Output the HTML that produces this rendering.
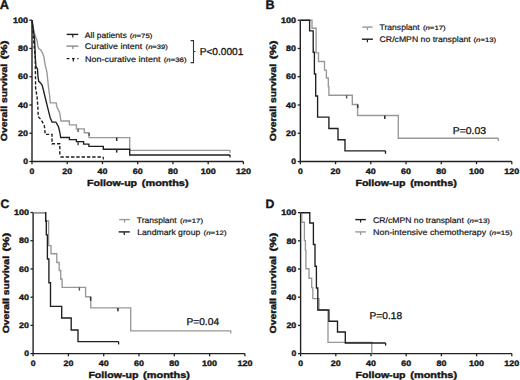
<!DOCTYPE html>
<html><head><meta charset="utf-8"><style>html,body{margin:0;padding:0;background:#fff;}svg{display:block;font-family:"Liberation Sans",sans-serif;text-rendering:geometricPrecision;}</style></head><body>
<svg width="520" height="380" viewBox="0 0 520 380">
<rect width="520" height="380" fill="#fff"/>
<text x="-0.2" y="8.9" font-size="12.8" font-weight="bold" text-anchor="start" fill="#161616" stroke="#161616" stroke-width="0.38">A</text>
<text x="265.6" y="8.9" font-size="12.6" font-weight="bold" text-anchor="start" fill="#161616" stroke="#161616" stroke-width="0.38">B</text>
<text x="0.4" y="207.6" font-size="12.2" font-weight="bold" text-anchor="start" fill="#161616" stroke="#161616" stroke-width="0.38">C</text>
<text x="265.4" y="207.6" font-size="12.2" font-weight="bold" text-anchor="start" fill="#161616" stroke="#161616" stroke-width="0.38">D</text>
<path d="M32 20.2V161.5H243.4" fill="none" stroke="#222" stroke-width="1.4"/>
<line x1="29.4" y1="161.5" x2="32" y2="161.5" stroke="#222" stroke-width="1.3"/>
<text x="28" y="164.25" font-size="7.9" font-weight="bold" text-anchor="end" fill="#161616" stroke="#161616" stroke-width="0.38" textLength="4.8" lengthAdjust="spacingAndGlyphs">0</text>
<line x1="29.4" y1="133.24" x2="32" y2="133.24" stroke="#222" stroke-width="1.3"/>
<text x="28" y="135.99" font-size="7.9" font-weight="bold" text-anchor="end" fill="#161616" stroke="#161616" stroke-width="0.38" textLength="9.9" lengthAdjust="spacingAndGlyphs">20</text>
<line x1="29.4" y1="104.98" x2="32" y2="104.98" stroke="#222" stroke-width="1.3"/>
<text x="28" y="107.73" font-size="7.9" font-weight="bold" text-anchor="end" fill="#161616" stroke="#161616" stroke-width="0.38" textLength="9.9" lengthAdjust="spacingAndGlyphs">40</text>
<line x1="29.4" y1="76.72" x2="32" y2="76.72" stroke="#222" stroke-width="1.3"/>
<text x="28" y="79.47" font-size="7.9" font-weight="bold" text-anchor="end" fill="#161616" stroke="#161616" stroke-width="0.38" textLength="9.9" lengthAdjust="spacingAndGlyphs">60</text>
<line x1="29.4" y1="48.46" x2="32" y2="48.46" stroke="#222" stroke-width="1.3"/>
<text x="28" y="51.21" font-size="7.9" font-weight="bold" text-anchor="end" fill="#161616" stroke="#161616" stroke-width="0.38" textLength="9.9" lengthAdjust="spacingAndGlyphs">80</text>
<line x1="29.4" y1="20.2" x2="32" y2="20.2" stroke="#222" stroke-width="1.3"/>
<text x="28" y="22.95" font-size="7.9" font-weight="bold" text-anchor="end" fill="#161616" stroke="#161616" stroke-width="0.38" textLength="15" lengthAdjust="spacingAndGlyphs">100</text>
<line x1="32" y1="161.5" x2="32" y2="164.2" stroke="#222" stroke-width="1.3"/>
<text x="32" y="173.6" font-size="7.9" font-weight="bold" text-anchor="middle" fill="#161616" stroke="#161616" stroke-width="0.38" textLength="4.8" lengthAdjust="spacingAndGlyphs">0</text>
<line x1="67.23" y1="161.5" x2="67.23" y2="164.2" stroke="#222" stroke-width="1.3"/>
<text x="67.23" y="173.6" font-size="7.9" font-weight="bold" text-anchor="middle" fill="#161616" stroke="#161616" stroke-width="0.38" textLength="9.9" lengthAdjust="spacingAndGlyphs">20</text>
<line x1="102.47" y1="161.5" x2="102.47" y2="164.2" stroke="#222" stroke-width="1.3"/>
<text x="102.47" y="173.6" font-size="7.9" font-weight="bold" text-anchor="middle" fill="#161616" stroke="#161616" stroke-width="0.38" textLength="9.9" lengthAdjust="spacingAndGlyphs">40</text>
<line x1="137.7" y1="161.5" x2="137.7" y2="164.2" stroke="#222" stroke-width="1.3"/>
<text x="137.7" y="173.6" font-size="7.9" font-weight="bold" text-anchor="middle" fill="#161616" stroke="#161616" stroke-width="0.38" textLength="9.9" lengthAdjust="spacingAndGlyphs">60</text>
<line x1="172.93" y1="161.5" x2="172.93" y2="164.2" stroke="#222" stroke-width="1.3"/>
<text x="172.93" y="173.6" font-size="7.9" font-weight="bold" text-anchor="middle" fill="#161616" stroke="#161616" stroke-width="0.38" textLength="9.9" lengthAdjust="spacingAndGlyphs">80</text>
<line x1="208.17" y1="161.5" x2="208.17" y2="164.2" stroke="#222" stroke-width="1.3"/>
<text x="208.17" y="173.6" font-size="7.9" font-weight="bold" text-anchor="middle" fill="#161616" stroke="#161616" stroke-width="0.38" textLength="15" lengthAdjust="spacingAndGlyphs">100</text>
<line x1="243.4" y1="161.5" x2="243.4" y2="164.2" stroke="#222" stroke-width="1.3"/>
<text x="243.4" y="173.6" font-size="7.9" font-weight="bold" text-anchor="middle" fill="#161616" stroke="#161616" stroke-width="0.38" textLength="15" lengthAdjust="spacingAndGlyphs">120</text>
<text x="87.1" y="185.7" font-size="8.9" font-weight="bold" text-anchor="start" fill="#161616" stroke="#161616" stroke-width="0.38" textLength="50" lengthAdjust="spacingAndGlyphs">Follow-up</text>
<text x="188.6" y="185.7" font-size="8.9" font-weight="bold" text-anchor="end" fill="#161616" stroke="#161616" stroke-width="0.38" textLength="46.8" lengthAdjust="spacingAndGlyphs">(months)</text>
<text x="0" y="0" font-size="8.9" font-weight="bold" text-anchor="start" fill="#161616" stroke="#161616" stroke-width="0.38" textLength="77.4" lengthAdjust="spacingAndGlyphs" transform="translate(7.4 141.15) rotate(-90)">Overall survival</text>
<text x="0" y="0" font-size="8.9" font-weight="bold" text-anchor="end" fill="#161616" stroke="#161616" stroke-width="0.38" textLength="18.8" lengthAdjust="spacingAndGlyphs" transform="translate(7.4 40.55) rotate(-90)">(%)</text>
<path d="M32 20.2L32.6 23L33.4 28L34.4 33L35.6 36.8L37.1 40.7L37.9 46.3L38.7 48.6L40.7 49.8L42.3 52.6L43.8 56.5L44.6 61.3L45.4 66.3L46.9 71.8L47.7 79.7L48.6 88L49.6 95.4L50.3 102.8H56.2L57.1 107.6L59.7 112.6L60.9 121H69.4V124.8H76.4V128.9H84.3V132.7H89V137.6H129.7V150.3H230.2" fill="none" stroke="#989898" stroke-width="1.35" stroke-linejoin="miter" stroke-linecap="butt"/>
<path d="M32 20.2L32.8 26L33.6 32L34.4 37L34.8 43.9L35.2 55.7L35.9 66.3L37.5 68.9L37.9 75.8L38.7 81.3L40.6 82.9L42.2 85.3L43.4 90L45.8 100L47.7 107.6L48.9 112.6L50.2 117.7L52.1 122.1H55.9L58.4 126.5L59.7 131.6L60.7 137.5H69.4V139.6H76.4V141.6H83.6V144.1H88.9V146.3H103.3V149.2H129.7V155H230.2" fill="none" stroke="#1e1e1e" stroke-width="1.35" stroke-linejoin="miter" stroke-linecap="butt"/>
<path d="M32 20.2L33.2 36L35.3 58L35.6 88L37.2 98L37.8 106.3L38.3 116.8L40.9 119.6L44.3 125.2L45.2 134.4H52V143.8H59.8V156" fill="none" stroke="#1e1e1e" stroke-width="1.4" stroke-linejoin="miter" stroke-linecap="butt" stroke-dasharray="3.2,1.9"/>
<path d="M60.4 157.1H103.3" fill="none" stroke="#1e1e1e" stroke-width="1.5" stroke-linejoin="miter" stroke-linecap="butt" stroke-dasharray="3.4,1.9"/>
<line x1="78.1" y1="128.8" x2="78.1" y2="132" stroke="#555" stroke-width="1.4"/>
<line x1="89.1" y1="133" x2="89.1" y2="136" stroke="#555" stroke-width="1.4"/>
<line x1="116.7" y1="137.6" x2="116.7" y2="141" stroke="#333" stroke-width="1.6"/>
<line x1="78.1" y1="141.6" x2="78.1" y2="145.2" stroke="#333" stroke-width="1.3"/>
<line x1="116.7" y1="149.2" x2="116.7" y2="152.6" stroke="#333" stroke-width="1.6"/>
<line x1="230" y1="150.3" x2="230" y2="152.8" stroke="#989898" stroke-width="1.3"/>
<line x1="230" y1="155" x2="230" y2="157.6" stroke="#1e1e1e" stroke-width="1.3"/>
<line x1="103.3" y1="157.1" x2="103.3" y2="159.6" stroke="#1e1e1e" stroke-width="1.2"/>
<line x1="66.7" y1="34.4" x2="78.2" y2="34.4" stroke="#1e1e1e" stroke-width="1.4"/>
<line x1="72.8" y1="34.4" x2="72.8" y2="37.4" stroke="#1e1e1e" stroke-width="1.2"/>
<text x="84.8" y="37.6" font-size="8.1" font-weight="normal" text-anchor="start" fill="#161616" stroke="#161616" stroke-width="0.2" textLength="42" lengthAdjust="spacingAndGlyphs">All patients</text>
<text x="129.7" y="37.6" font-size="6.3" fill="#161616" stroke="#161616" stroke-width="0.2" textLength="22.6" lengthAdjust="spacingAndGlyphs">(<tspan font-style="italic">n</tspan>=75)</text>
<line x1="66.4" y1="46.1" x2="78.3" y2="46.1" stroke="#8a8a8a" stroke-width="1.4"/>
<line x1="72.8" y1="46.1" x2="72.8" y2="49.1" stroke="#8a8a8a" stroke-width="1.2"/>
<text x="84.8" y="49.4" font-size="8.1" font-weight="normal" text-anchor="start" fill="#161616" stroke="#161616" stroke-width="0.2" textLength="57.4" lengthAdjust="spacingAndGlyphs">Curative intent</text>
<text x="145.6" y="49.4" font-size="6.3" fill="#161616" stroke="#161616" stroke-width="0.2" textLength="22.2" lengthAdjust="spacingAndGlyphs">(<tspan font-style="italic">n</tspan>=39)</text>
<line x1="66.7" y1="58.6" x2="78.6" y2="58.6" stroke="#1e1e1e" stroke-width="1.4" stroke-dasharray="2.7,2.6"/>
<line x1="73.3" y1="58.6" x2="73.3" y2="61.6" stroke="#1e1e1e" stroke-width="1.2"/>
<text x="85" y="61.6" font-size="8.1" font-weight="normal" text-anchor="start" fill="#161616" stroke="#161616" stroke-width="0.2" textLength="75.4" lengthAdjust="spacingAndGlyphs">Non-curative intent</text>
<text x="163.7" y="61.6" font-size="6.3" fill="#161616" stroke="#161616" stroke-width="0.2" textLength="22.9" lengthAdjust="spacingAndGlyphs">(<tspan font-style="italic">n</tspan>=36)</text>
<path d="M190.6 40.6H193.5V62.6H190.6M193.5 51.5H195.4" fill="none" stroke="#333" stroke-width="1.1"/>
<text x="199.7" y="54.9" font-size="10.0" font-weight="normal" text-anchor="start" fill="#161616" stroke="#161616" stroke-width="0.3" textLength="43.7" lengthAdjust="spacingAndGlyphs">P&lt;0.0001</text>
<path d="M300.3 20.2V161.5H511.8" fill="none" stroke="#222" stroke-width="1.4"/>
<line x1="297.7" y1="161.5" x2="300.3" y2="161.5" stroke="#222" stroke-width="1.3"/>
<text x="296" y="164.25" font-size="7.9" font-weight="bold" text-anchor="end" fill="#161616" stroke="#161616" stroke-width="0.38" textLength="4.8" lengthAdjust="spacingAndGlyphs">0</text>
<line x1="297.7" y1="133.24" x2="300.3" y2="133.24" stroke="#222" stroke-width="1.3"/>
<text x="296" y="135.99" font-size="7.9" font-weight="bold" text-anchor="end" fill="#161616" stroke="#161616" stroke-width="0.38" textLength="9.9" lengthAdjust="spacingAndGlyphs">20</text>
<line x1="297.7" y1="104.98" x2="300.3" y2="104.98" stroke="#222" stroke-width="1.3"/>
<text x="296" y="107.73" font-size="7.9" font-weight="bold" text-anchor="end" fill="#161616" stroke="#161616" stroke-width="0.38" textLength="9.9" lengthAdjust="spacingAndGlyphs">40</text>
<line x1="297.7" y1="76.72" x2="300.3" y2="76.72" stroke="#222" stroke-width="1.3"/>
<text x="296" y="79.47" font-size="7.9" font-weight="bold" text-anchor="end" fill="#161616" stroke="#161616" stroke-width="0.38" textLength="9.9" lengthAdjust="spacingAndGlyphs">60</text>
<line x1="297.7" y1="48.46" x2="300.3" y2="48.46" stroke="#222" stroke-width="1.3"/>
<text x="296" y="51.21" font-size="7.9" font-weight="bold" text-anchor="end" fill="#161616" stroke="#161616" stroke-width="0.38" textLength="9.9" lengthAdjust="spacingAndGlyphs">80</text>
<line x1="297.7" y1="20.2" x2="300.3" y2="20.2" stroke="#222" stroke-width="1.3"/>
<text x="296" y="22.95" font-size="7.9" font-weight="bold" text-anchor="end" fill="#161616" stroke="#161616" stroke-width="0.38" textLength="15" lengthAdjust="spacingAndGlyphs">100</text>
<line x1="300.3" y1="161.5" x2="300.3" y2="164.2" stroke="#222" stroke-width="1.3"/>
<text x="300.3" y="173.6" font-size="7.9" font-weight="bold" text-anchor="middle" fill="#161616" stroke="#161616" stroke-width="0.38" textLength="4.8" lengthAdjust="spacingAndGlyphs">0</text>
<line x1="335.55" y1="161.5" x2="335.55" y2="164.2" stroke="#222" stroke-width="1.3"/>
<text x="335.55" y="173.6" font-size="7.9" font-weight="bold" text-anchor="middle" fill="#161616" stroke="#161616" stroke-width="0.38" textLength="9.9" lengthAdjust="spacingAndGlyphs">20</text>
<line x1="370.8" y1="161.5" x2="370.8" y2="164.2" stroke="#222" stroke-width="1.3"/>
<text x="370.8" y="173.6" font-size="7.9" font-weight="bold" text-anchor="middle" fill="#161616" stroke="#161616" stroke-width="0.38" textLength="9.9" lengthAdjust="spacingAndGlyphs">40</text>
<line x1="406.05" y1="161.5" x2="406.05" y2="164.2" stroke="#222" stroke-width="1.3"/>
<text x="406.05" y="173.6" font-size="7.9" font-weight="bold" text-anchor="middle" fill="#161616" stroke="#161616" stroke-width="0.38" textLength="9.9" lengthAdjust="spacingAndGlyphs">60</text>
<line x1="441.3" y1="161.5" x2="441.3" y2="164.2" stroke="#222" stroke-width="1.3"/>
<text x="441.3" y="173.6" font-size="7.9" font-weight="bold" text-anchor="middle" fill="#161616" stroke="#161616" stroke-width="0.38" textLength="9.9" lengthAdjust="spacingAndGlyphs">80</text>
<line x1="476.55" y1="161.5" x2="476.55" y2="164.2" stroke="#222" stroke-width="1.3"/>
<text x="476.55" y="173.6" font-size="7.9" font-weight="bold" text-anchor="middle" fill="#161616" stroke="#161616" stroke-width="0.38" textLength="15" lengthAdjust="spacingAndGlyphs">100</text>
<line x1="511.8" y1="161.5" x2="511.8" y2="164.2" stroke="#222" stroke-width="1.3"/>
<text x="511.8" y="173.6" font-size="7.9" font-weight="bold" text-anchor="middle" fill="#161616" stroke="#161616" stroke-width="0.38" textLength="15" lengthAdjust="spacingAndGlyphs">120</text>
<text x="355.45" y="185.7" font-size="8.9" font-weight="bold" text-anchor="start" fill="#161616" stroke="#161616" stroke-width="0.38" textLength="50" lengthAdjust="spacingAndGlyphs">Follow-up</text>
<text x="456.95" y="185.7" font-size="8.9" font-weight="bold" text-anchor="end" fill="#161616" stroke="#161616" stroke-width="0.38" textLength="46.8" lengthAdjust="spacingAndGlyphs">(months)</text>
<text x="0" y="0" font-size="8.9" font-weight="bold" text-anchor="start" fill="#161616" stroke="#161616" stroke-width="0.38" textLength="77.4" lengthAdjust="spacingAndGlyphs" transform="translate(275.8 141.15) rotate(-90)">Overall survival</text>
<text x="0" y="0" font-size="8.9" font-weight="bold" text-anchor="end" fill="#161616" stroke="#161616" stroke-width="0.38" textLength="18.8" lengthAdjust="spacingAndGlyphs" transform="translate(275.8 40.55) rotate(-90)">(%)</text>
<path d="M300.3 20.2H312V28.2H316.1V52.9H318.5V61.5H324.5V70.1H326.4V78H328.3V86.6H328.9V95.2H352.3V104.5H357.6V115.5H398.3V138.2H498.4" fill="none" stroke="#989898" stroke-width="1.35" stroke-linejoin="miter" stroke-linecap="butt"/>
<path d="M300.3 20.2H309.6V30.8H313.2V52.2H314.4V74H315.7V96H317.6V117.1H328.9V128.5H338V139.7H345V150.8H385.6" fill="none" stroke="#1e1e1e" stroke-width="1.35" stroke-linejoin="miter" stroke-linecap="butt"/>
<line x1="346.6" y1="95.2" x2="346.6" y2="98.5" stroke="#555" stroke-width="1.4"/>
<line x1="357.7" y1="104.5" x2="357.7" y2="108" stroke="#333" stroke-width="1.5"/>
<line x1="384.8" y1="115.5" x2="384.8" y2="119" stroke="#333" stroke-width="1.6"/>
<line x1="498.3" y1="138.2" x2="498.3" y2="141.1" stroke="#989898" stroke-width="1.3"/>
<line x1="385.5" y1="150.8" x2="385.5" y2="153.8" stroke="#1e1e1e" stroke-width="1.3"/>
<line x1="362.3" y1="27.1" x2="372.6" y2="27.1" stroke="#989898" stroke-width="1.4"/>
<line x1="367.45" y1="27.1" x2="367.45" y2="30.1" stroke="#989898" stroke-width="1.2"/>
<text x="379.6" y="30.2" font-size="8.1" font-weight="normal" text-anchor="start" fill="#161616" stroke="#161616" stroke-width="0.2" textLength="40.1" lengthAdjust="spacingAndGlyphs">Transplant</text>
<text x="422.9" y="30.2" font-size="6.3" fill="#161616" stroke="#161616" stroke-width="0.2" textLength="22.8" lengthAdjust="spacingAndGlyphs">(<tspan font-style="italic">n</tspan>=17)</text>
<line x1="361.9" y1="39.2" x2="372.9" y2="39.2" stroke="#1e1e1e" stroke-width="1.4"/>
<line x1="367.4" y1="39.2" x2="367.4" y2="42.2" stroke="#1e1e1e" stroke-width="1.2"/>
<text x="379.6" y="42.4" font-size="8.1" font-weight="normal" text-anchor="start" fill="#161616" stroke="#161616" stroke-width="0.2" textLength="91.2" lengthAdjust="spacingAndGlyphs">CR/cMPN no transplant</text>
<text x="473.5" y="42.4" font-size="6.3" fill="#161616" stroke="#161616" stroke-width="0.2" textLength="22.7" lengthAdjust="spacingAndGlyphs">(<tspan font-style="italic">n</tspan>=13)</text>
<text x="452.7" y="133.6" font-size="9.9" font-weight="normal" text-anchor="start" fill="#161616" stroke="#161616" stroke-width="0.3" textLength="33.4" lengthAdjust="spacingAndGlyphs">P=0.03</text>
<path d="M33.1 212.5V353.6H244.9" fill="none" stroke="#222" stroke-width="1.4"/>
<line x1="30.5" y1="353.6" x2="33.1" y2="353.6" stroke="#222" stroke-width="1.3"/>
<text x="29" y="356.35" font-size="7.9" font-weight="bold" text-anchor="end" fill="#161616" stroke="#161616" stroke-width="0.38" textLength="4.8" lengthAdjust="spacingAndGlyphs">0</text>
<line x1="30.5" y1="325.38" x2="33.1" y2="325.38" stroke="#222" stroke-width="1.3"/>
<text x="29" y="328.13" font-size="7.9" font-weight="bold" text-anchor="end" fill="#161616" stroke="#161616" stroke-width="0.38" textLength="9.9" lengthAdjust="spacingAndGlyphs">20</text>
<line x1="30.5" y1="297.16" x2="33.1" y2="297.16" stroke="#222" stroke-width="1.3"/>
<text x="29" y="299.91" font-size="7.9" font-weight="bold" text-anchor="end" fill="#161616" stroke="#161616" stroke-width="0.38" textLength="9.9" lengthAdjust="spacingAndGlyphs">40</text>
<line x1="30.5" y1="268.94" x2="33.1" y2="268.94" stroke="#222" stroke-width="1.3"/>
<text x="29" y="271.69" font-size="7.9" font-weight="bold" text-anchor="end" fill="#161616" stroke="#161616" stroke-width="0.38" textLength="9.9" lengthAdjust="spacingAndGlyphs">60</text>
<line x1="30.5" y1="240.72" x2="33.1" y2="240.72" stroke="#222" stroke-width="1.3"/>
<text x="29" y="243.47" font-size="7.9" font-weight="bold" text-anchor="end" fill="#161616" stroke="#161616" stroke-width="0.38" textLength="9.9" lengthAdjust="spacingAndGlyphs">80</text>
<line x1="30.5" y1="212.5" x2="33.1" y2="212.5" stroke="#222" stroke-width="1.3"/>
<text x="29" y="215.25" font-size="7.9" font-weight="bold" text-anchor="end" fill="#161616" stroke="#161616" stroke-width="0.38" textLength="15" lengthAdjust="spacingAndGlyphs">100</text>
<line x1="33.1" y1="353.6" x2="33.1" y2="356.3" stroke="#222" stroke-width="1.3"/>
<text x="33.1" y="365.7" font-size="7.9" font-weight="bold" text-anchor="middle" fill="#161616" stroke="#161616" stroke-width="0.38" textLength="4.8" lengthAdjust="spacingAndGlyphs">0</text>
<line x1="68.4" y1="353.6" x2="68.4" y2="356.3" stroke="#222" stroke-width="1.3"/>
<text x="68.4" y="365.7" font-size="7.9" font-weight="bold" text-anchor="middle" fill="#161616" stroke="#161616" stroke-width="0.38" textLength="9.9" lengthAdjust="spacingAndGlyphs">20</text>
<line x1="103.7" y1="353.6" x2="103.7" y2="356.3" stroke="#222" stroke-width="1.3"/>
<text x="103.7" y="365.7" font-size="7.9" font-weight="bold" text-anchor="middle" fill="#161616" stroke="#161616" stroke-width="0.38" textLength="9.9" lengthAdjust="spacingAndGlyphs">40</text>
<line x1="139" y1="353.6" x2="139" y2="356.3" stroke="#222" stroke-width="1.3"/>
<text x="139" y="365.7" font-size="7.9" font-weight="bold" text-anchor="middle" fill="#161616" stroke="#161616" stroke-width="0.38" textLength="9.9" lengthAdjust="spacingAndGlyphs">60</text>
<line x1="174.3" y1="353.6" x2="174.3" y2="356.3" stroke="#222" stroke-width="1.3"/>
<text x="174.3" y="365.7" font-size="7.9" font-weight="bold" text-anchor="middle" fill="#161616" stroke="#161616" stroke-width="0.38" textLength="9.9" lengthAdjust="spacingAndGlyphs">80</text>
<line x1="209.6" y1="353.6" x2="209.6" y2="356.3" stroke="#222" stroke-width="1.3"/>
<text x="209.6" y="365.7" font-size="7.9" font-weight="bold" text-anchor="middle" fill="#161616" stroke="#161616" stroke-width="0.38" textLength="15" lengthAdjust="spacingAndGlyphs">100</text>
<line x1="244.9" y1="353.6" x2="244.9" y2="356.3" stroke="#222" stroke-width="1.3"/>
<text x="244.9" y="365.7" font-size="7.9" font-weight="bold" text-anchor="middle" fill="#161616" stroke="#161616" stroke-width="0.38" textLength="15" lengthAdjust="spacingAndGlyphs">120</text>
<text x="88.4" y="377.8" font-size="8.9" font-weight="bold" text-anchor="start" fill="#161616" stroke="#161616" stroke-width="0.38" textLength="50" lengthAdjust="spacingAndGlyphs">Follow-up</text>
<text x="189.9" y="377.8" font-size="8.9" font-weight="bold" text-anchor="end" fill="#161616" stroke="#161616" stroke-width="0.38" textLength="46.8" lengthAdjust="spacingAndGlyphs">(months)</text>
<text x="0" y="0" font-size="8.9" font-weight="bold" text-anchor="start" fill="#161616" stroke="#161616" stroke-width="0.38" textLength="77.4" lengthAdjust="spacingAndGlyphs" transform="translate(9 333.35) rotate(-90)">Overall survival</text>
<text x="0" y="0" font-size="8.9" font-weight="bold" text-anchor="end" fill="#161616" stroke="#161616" stroke-width="0.38" textLength="18.8" lengthAdjust="spacingAndGlyphs" transform="translate(9 232.75) rotate(-90)">(%)</text>
<path d="M33.1 212.6H45.6V221H48.6V245.6H51V253.7H56.8V262.5H59.2V270.5H60.7V279H62.1V287.3H85.6V296.7H90.8V307.9H130.7V330.8H230.9" fill="none" stroke="#989898" stroke-width="1.35" stroke-linejoin="miter" stroke-linecap="butt"/>
<path d="M33.1 212.6H45.7V221H46.3V234.8H47.4V259H48.9V282.7H50.5V306.4H61.7V318H71.2V330H78V341.6H118.7" fill="none" stroke="#1e1e1e" stroke-width="1.35" stroke-linejoin="miter" stroke-linecap="butt"/>
<path d="M33.1 212.6H45.1" fill="none" stroke="#989898" stroke-width="1.35" stroke-linejoin="miter" stroke-linecap="butt"/>
<line x1="79.4" y1="287.3" x2="79.4" y2="290.6" stroke="#555" stroke-width="1.4"/>
<line x1="90.6" y1="297" x2="90.6" y2="300.8" stroke="#333" stroke-width="1.5"/>
<line x1="117.9" y1="307.9" x2="117.9" y2="311.2" stroke="#333" stroke-width="1.6"/>
<line x1="230.8" y1="330.8" x2="230.8" y2="333.6" stroke="#989898" stroke-width="1.3"/>
<line x1="118.6" y1="341.6" x2="118.6" y2="344.4" stroke="#1e1e1e" stroke-width="1.3"/>
<line x1="119.2" y1="219.6" x2="129.8" y2="219.6" stroke="#989898" stroke-width="1.4"/>
<line x1="124.5" y1="219.6" x2="124.5" y2="222.6" stroke="#989898" stroke-width="1.2"/>
<text x="136.8" y="222.7" font-size="8.1" font-weight="normal" text-anchor="start" fill="#161616" stroke="#161616" stroke-width="0.2" textLength="39.9" lengthAdjust="spacingAndGlyphs">Transplant</text>
<text x="180.1" y="222.7" font-size="6.3" fill="#161616" stroke="#161616" stroke-width="0.2" textLength="22.9" lengthAdjust="spacingAndGlyphs">(<tspan font-style="italic">n</tspan>=17)</text>
<line x1="118.7" y1="231.9" x2="129.8" y2="231.9" stroke="#1e1e1e" stroke-width="1.4"/>
<line x1="124.25" y1="231.9" x2="124.25" y2="234.9" stroke="#1e1e1e" stroke-width="1.2"/>
<text x="137.2" y="234.8" font-size="8.1" font-weight="normal" text-anchor="start" fill="#161616" stroke="#161616" stroke-width="0.2" textLength="63.1" lengthAdjust="spacingAndGlyphs">Landmark group</text>
<text x="203.6" y="234.8" font-size="6.3" fill="#161616" stroke="#161616" stroke-width="0.2" textLength="22.9" lengthAdjust="spacingAndGlyphs">(<tspan font-style="italic">n</tspan>=12)</text>
<text x="186.4" y="324.5" font-size="9.9" font-weight="normal" text-anchor="start" fill="#161616" stroke="#161616" stroke-width="0.3" textLength="32.7" lengthAdjust="spacingAndGlyphs">P=0.04</text>
<path d="M300.6 212.6V353.6H511.8" fill="none" stroke="#222" stroke-width="1.4"/>
<line x1="298" y1="353.6" x2="300.6" y2="353.6" stroke="#222" stroke-width="1.3"/>
<text x="296.3" y="356.35" font-size="7.9" font-weight="bold" text-anchor="end" fill="#161616" stroke="#161616" stroke-width="0.38" textLength="4.8" lengthAdjust="spacingAndGlyphs">0</text>
<line x1="298" y1="325.4" x2="300.6" y2="325.4" stroke="#222" stroke-width="1.3"/>
<text x="296.3" y="328.15" font-size="7.9" font-weight="bold" text-anchor="end" fill="#161616" stroke="#161616" stroke-width="0.38" textLength="9.9" lengthAdjust="spacingAndGlyphs">20</text>
<line x1="298" y1="297.2" x2="300.6" y2="297.2" stroke="#222" stroke-width="1.3"/>
<text x="296.3" y="299.95" font-size="7.9" font-weight="bold" text-anchor="end" fill="#161616" stroke="#161616" stroke-width="0.38" textLength="9.9" lengthAdjust="spacingAndGlyphs">40</text>
<line x1="298" y1="269" x2="300.6" y2="269" stroke="#222" stroke-width="1.3"/>
<text x="296.3" y="271.75" font-size="7.9" font-weight="bold" text-anchor="end" fill="#161616" stroke="#161616" stroke-width="0.38" textLength="9.9" lengthAdjust="spacingAndGlyphs">60</text>
<line x1="298" y1="240.8" x2="300.6" y2="240.8" stroke="#222" stroke-width="1.3"/>
<text x="296.3" y="243.55" font-size="7.9" font-weight="bold" text-anchor="end" fill="#161616" stroke="#161616" stroke-width="0.38" textLength="9.9" lengthAdjust="spacingAndGlyphs">80</text>
<line x1="298" y1="212.6" x2="300.6" y2="212.6" stroke="#222" stroke-width="1.3"/>
<text x="296.3" y="215.35" font-size="7.9" font-weight="bold" text-anchor="end" fill="#161616" stroke="#161616" stroke-width="0.38" textLength="15" lengthAdjust="spacingAndGlyphs">100</text>
<line x1="300.6" y1="353.6" x2="300.6" y2="356.3" stroke="#222" stroke-width="1.3"/>
<text x="300.6" y="365.7" font-size="7.9" font-weight="bold" text-anchor="middle" fill="#161616" stroke="#161616" stroke-width="0.38" textLength="4.8" lengthAdjust="spacingAndGlyphs">0</text>
<line x1="335.8" y1="353.6" x2="335.8" y2="356.3" stroke="#222" stroke-width="1.3"/>
<text x="335.8" y="365.7" font-size="7.9" font-weight="bold" text-anchor="middle" fill="#161616" stroke="#161616" stroke-width="0.38" textLength="9.9" lengthAdjust="spacingAndGlyphs">20</text>
<line x1="371" y1="353.6" x2="371" y2="356.3" stroke="#222" stroke-width="1.3"/>
<text x="371" y="365.7" font-size="7.9" font-weight="bold" text-anchor="middle" fill="#161616" stroke="#161616" stroke-width="0.38" textLength="9.9" lengthAdjust="spacingAndGlyphs">40</text>
<line x1="406.2" y1="353.6" x2="406.2" y2="356.3" stroke="#222" stroke-width="1.3"/>
<text x="406.2" y="365.7" font-size="7.9" font-weight="bold" text-anchor="middle" fill="#161616" stroke="#161616" stroke-width="0.38" textLength="9.9" lengthAdjust="spacingAndGlyphs">60</text>
<line x1="441.4" y1="353.6" x2="441.4" y2="356.3" stroke="#222" stroke-width="1.3"/>
<text x="441.4" y="365.7" font-size="7.9" font-weight="bold" text-anchor="middle" fill="#161616" stroke="#161616" stroke-width="0.38" textLength="9.9" lengthAdjust="spacingAndGlyphs">80</text>
<line x1="476.6" y1="353.6" x2="476.6" y2="356.3" stroke="#222" stroke-width="1.3"/>
<text x="476.6" y="365.7" font-size="7.9" font-weight="bold" text-anchor="middle" fill="#161616" stroke="#161616" stroke-width="0.38" textLength="15" lengthAdjust="spacingAndGlyphs">100</text>
<line x1="511.8" y1="353.6" x2="511.8" y2="356.3" stroke="#222" stroke-width="1.3"/>
<text x="511.8" y="365.7" font-size="7.9" font-weight="bold" text-anchor="middle" fill="#161616" stroke="#161616" stroke-width="0.38" textLength="15" lengthAdjust="spacingAndGlyphs">120</text>
<text x="355.6" y="377.8" font-size="8.9" font-weight="bold" text-anchor="start" fill="#161616" stroke="#161616" stroke-width="0.38" textLength="50" lengthAdjust="spacingAndGlyphs">Follow-up</text>
<text x="457.1" y="377.8" font-size="8.9" font-weight="bold" text-anchor="end" fill="#161616" stroke="#161616" stroke-width="0.38" textLength="46.8" lengthAdjust="spacingAndGlyphs">(months)</text>
<text x="0" y="0" font-size="8.9" font-weight="bold" text-anchor="start" fill="#161616" stroke="#161616" stroke-width="0.38" textLength="77.4" lengthAdjust="spacingAndGlyphs" transform="translate(276 333.4) rotate(-90)">Overall survival</text>
<text x="0" y="0" font-size="8.9" font-weight="bold" text-anchor="end" fill="#161616" stroke="#161616" stroke-width="0.38" textLength="18.8" lengthAdjust="spacingAndGlyphs" transform="translate(276 232.8) rotate(-90)">(%)</text>
<path d="M300.6 212.7H301.7V222.2H304.4V240.6H305.4V250.3H305.9V268.7H309V278.2H311.7V287.6H312.8V298.6H319V310H328V342.4H371.8V353.6" fill="none" stroke="#989898" stroke-width="1.35" stroke-linejoin="miter" stroke-linecap="butt"/>
<path d="M300.6 212.7H309.8V223H313.4V244.5H315V266.2H316.4V288H317.8V310H328.9V321.2H337.5V332H345.3V343H385.7" fill="none" stroke="#1e1e1e" stroke-width="1.35" stroke-linejoin="miter" stroke-linecap="butt"/>
<line x1="385.6" y1="343" x2="385.6" y2="345.6" stroke="#1e1e1e" stroke-width="1.3"/>
<line x1="355.3" y1="219.6" x2="365.9" y2="219.6" stroke="#1e1e1e" stroke-width="1.4"/>
<line x1="360.6" y1="219.6" x2="360.6" y2="222.6" stroke="#1e1e1e" stroke-width="1.2"/>
<text x="373.1" y="222.7" font-size="8.1" font-weight="normal" text-anchor="start" fill="#161616" stroke="#161616" stroke-width="0.2" textLength="90.7" lengthAdjust="spacingAndGlyphs">CR/cMPN no transplant</text>
<text x="466.9" y="222.7" font-size="6.3" fill="#161616" stroke="#161616" stroke-width="0.2" textLength="23.1" lengthAdjust="spacingAndGlyphs">(<tspan font-style="italic">n</tspan>=13)</text>
<line x1="355.3" y1="231.9" x2="365.9" y2="231.9" stroke="#989898" stroke-width="1.4"/>
<line x1="360.6" y1="231.9" x2="360.6" y2="234.9" stroke="#989898" stroke-width="1.2"/>
<text x="373.1" y="234.8" font-size="8.1" font-weight="normal" text-anchor="start" fill="#161616" stroke="#161616" stroke-width="0.2" textLength="113.1" lengthAdjust="spacingAndGlyphs">Non-intensive chemotherapy</text>
<text x="489.2" y="234.8" font-size="6.3" fill="#161616" stroke="#161616" stroke-width="0.2" textLength="23.1" lengthAdjust="spacingAndGlyphs">(<tspan font-style="italic">n</tspan>=15)</text>
<text x="369.5" y="319.4" font-size="9.9" font-weight="normal" text-anchor="start" fill="#161616" stroke="#161616" stroke-width="0.3" textLength="32.6" lengthAdjust="spacingAndGlyphs">P=0.18</text>
</svg>
</body></html>
